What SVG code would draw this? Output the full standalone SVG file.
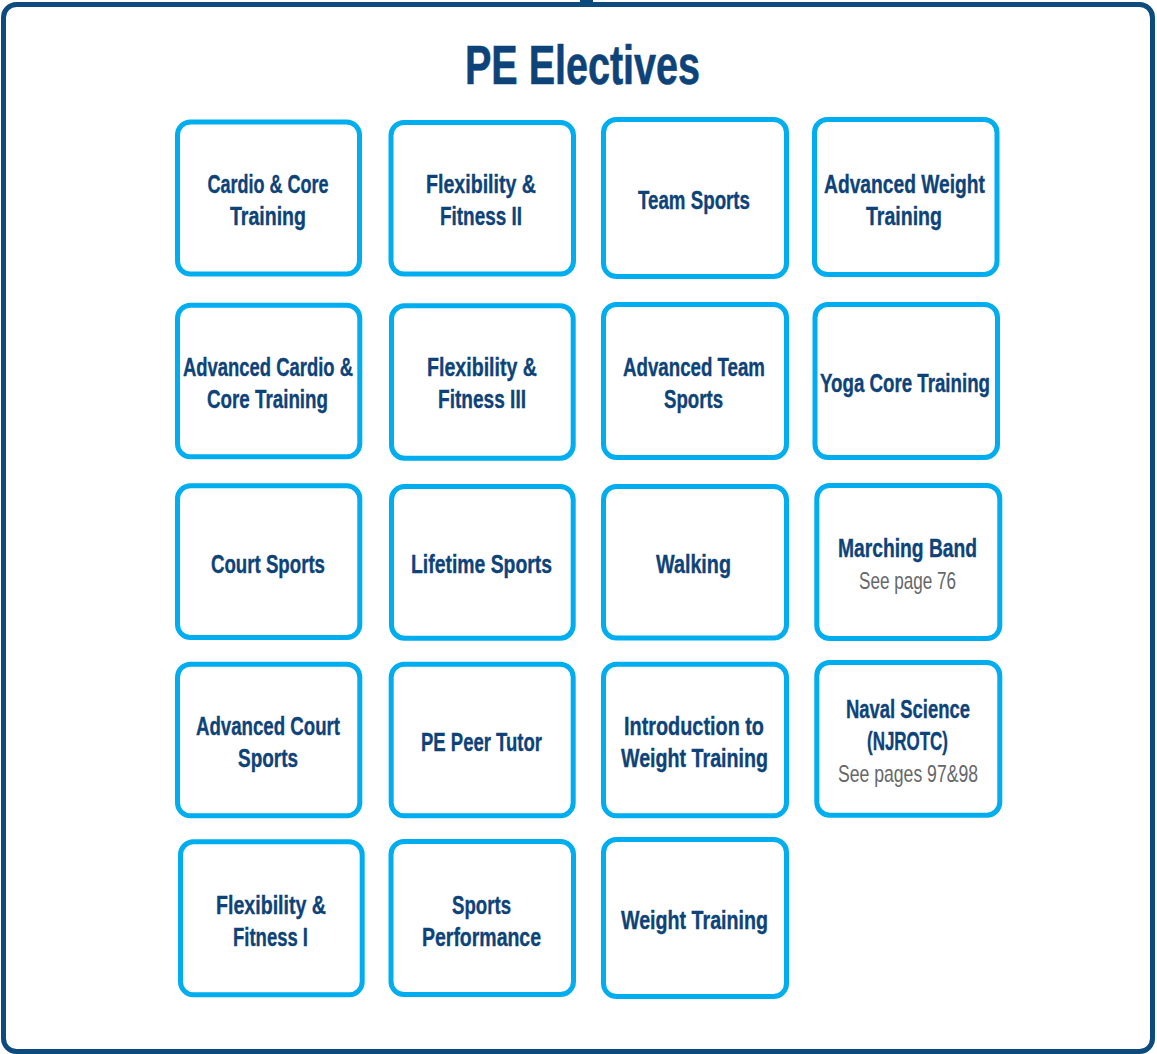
<svg xmlns="http://www.w3.org/2000/svg" width="1157" height="1054" viewBox="0 0 1157 1054">
<style>
.frame{fill:#fff;stroke:#0d4a7e;stroke-width:5}
.box{fill:#fff;stroke:#00aeef;stroke-width:5}
.t{font-family:"Liberation Sans",Arial,sans-serif;font-weight:bold;font-size:25.5px;fill:#0d4379;stroke:#0d4379;stroke-width:0.35;text-anchor:middle}
.s{font-family:"Liberation Sans",Arial,sans-serif;font-size:24px;fill:#666769;text-anchor:middle}
.title{font-family:"Liberation Sans",Arial,sans-serif;font-weight:bold;font-size:55px;fill:#0d4379;stroke:#0d4379;stroke-width:0.6;text-anchor:middle}
</style>
<rect width="1157" height="1054" fill="#fff"/>
<g id="frame">
<rect class="frame" x="3.5" y="4.5" width="1149" height="1047" rx="13"/>
</g>
<g id="connectors">
<rect x="580" y="0" width="13" height="6" fill="#0d4a7e"/>
</g>
<text class="title" x="582.5" y="84" textLength="235" lengthAdjust="spacingAndGlyphs">PE Electives</text>

<g id="n-cardio"><rect class="box" x="177.5" y="122" width="182" height="152" rx="13"/>
<text class="t" x="268" y="192.5" textLength="121" lengthAdjust="spacingAndGlyphs">Cardio &amp; Core</text>
<text class="t" x="268" y="224.5" textLength="76" lengthAdjust="spacingAndGlyphs">Training</text></g>

<g id="n-flex2"><rect class="box" x="391" y="122.5" width="182.5" height="151.5" rx="13"/>
<text class="t" x="481" y="192.5" textLength="110" lengthAdjust="spacingAndGlyphs">Flexibility &amp;</text>
<text class="t" x="481" y="224.5" textLength="82" lengthAdjust="spacingAndGlyphs">Fitness II</text></g>

<g id="n-team"><rect class="box" x="603.5" y="119.5" width="183" height="157" rx="13"/>
<text class="t" x="694" y="208.5" textLength="112" lengthAdjust="spacingAndGlyphs">Team Sports</text></g>

<g id="n-advweight"><rect class="box" x="814.5" y="119.5" width="182.5" height="155" rx="13"/>
<text class="t" x="904.5" y="192.5" textLength="161" lengthAdjust="spacingAndGlyphs">Advanced Weight</text>
<text class="t" x="904" y="224.5" textLength="76" lengthAdjust="spacingAndGlyphs">Training</text></g>

<g id="n-advcardio"><rect class="box" x="177.5" y="305.2" width="182.3" height="151.6" rx="13"/>
<text class="t" x="268" y="375.5" textLength="170" lengthAdjust="spacingAndGlyphs">Advanced Cardio &amp;</text>
<text class="t" x="267.5" y="407.5" textLength="121" lengthAdjust="spacingAndGlyphs">Core Training</text></g>

<g id="n-flex3"><rect class="box" x="391.5" y="305.8" width="181.7" height="152.4" rx="13"/>
<text class="t" x="482" y="375.5" textLength="110" lengthAdjust="spacingAndGlyphs">Flexibility &amp;</text>
<text class="t" x="482" y="407.5" textLength="88" lengthAdjust="spacingAndGlyphs">Fitness III</text></g>

<g id="n-advteam"><rect class="box" x="603.5" y="304.5" width="183" height="153" rx="13"/>
<text class="t" x="694" y="375.5" textLength="142" lengthAdjust="spacingAndGlyphs">Advanced Team</text>
<text class="t" x="693.5" y="407.5" textLength="59" lengthAdjust="spacingAndGlyphs">Sports</text></g>

<g id="n-yoga"><rect class="box" x="815" y="304.5" width="182.5" height="153" rx="13"/>
<text class="t" x="905" y="391.5" textLength="170" lengthAdjust="spacingAndGlyphs">Yoga Core Training</text></g>

<g id="n-court"><rect class="box" x="177.5" y="485.8" width="182.3" height="151.7" rx="13"/>
<text class="t" x="268" y="572.5" textLength="114" lengthAdjust="spacingAndGlyphs">Court Sports</text></g>

<g id="n-lifetime"><rect class="box" x="391.5" y="486.5" width="181.7" height="151.7" rx="13"/>
<text class="t" x="481.5" y="572.5" textLength="141" lengthAdjust="spacingAndGlyphs">Lifetime Sports</text></g>

<g id="n-walking"><rect class="box" x="603.5" y="486.5" width="183" height="151.5" rx="13"/>
<text class="t" x="693.5" y="572.5" textLength="75" lengthAdjust="spacingAndGlyphs">Walking</text></g>

<g id="n-marching"><rect class="box" x="816.8" y="485.5" width="183" height="153" rx="13"/>
<text class="t" x="907.5" y="556.5" textLength="139" lengthAdjust="spacingAndGlyphs">Marching Band</text>
<text class="s" x="907.5" y="588.5" textLength="97" lengthAdjust="spacingAndGlyphs">See page 76</text></g>

<g id="n-advcourt"><rect class="box" x="177.5" y="664.2" width="182.3" height="151.6" rx="13"/>
<text class="t" x="268" y="734.5" textLength="144" lengthAdjust="spacingAndGlyphs">Advanced Court</text>
<text class="t" x="268" y="766.5" textLength="60" lengthAdjust="spacingAndGlyphs">Sports</text></g>

<g id="n-peer"><rect class="box" x="391.2" y="664.2" width="182" height="151.6" rx="13"/>
<text class="t" x="481.5" y="750.5" textLength="121" lengthAdjust="spacingAndGlyphs">PE Peer Tutor</text></g>

<g id="n-introweight"><rect class="box" x="603.5" y="664.2" width="183" height="151.6" rx="13"/>
<text class="t" x="694" y="734.5" textLength="140" lengthAdjust="spacingAndGlyphs">Introduction to</text>
<text class="t" x="694.5" y="766.5" textLength="147" lengthAdjust="spacingAndGlyphs">Weight Training</text></g>

<g id="n-naval"><rect class="box" x="816.8" y="662.5" width="183" height="152.7" rx="13"/>
<text class="t" x="908" y="717.5" textLength="124" lengthAdjust="spacingAndGlyphs">Naval Science</text>
<text class="t" x="907.5" y="749.5" textLength="81" lengthAdjust="spacingAndGlyphs">(NJROTC)</text>
<text class="s" x="908" y="781.5" textLength="140" lengthAdjust="spacingAndGlyphs">See pages 97&amp;98</text></g>

<g id="n-flex1"><rect class="box" x="180.5" y="841.8" width="181.7" height="153" rx="13"/>
<text class="t" x="271" y="913.5" textLength="110" lengthAdjust="spacingAndGlyphs">Flexibility &amp;</text>
<text class="t" x="270.5" y="945.5" textLength="75" lengthAdjust="spacingAndGlyphs">Fitness I</text></g>

<g id="n-sportsperf"><rect class="box" x="391" y="841.5" width="182.5" height="153" rx="13"/>
<text class="t" x="481.5" y="913.5" textLength="59" lengthAdjust="spacingAndGlyphs">Sports</text>
<text class="t" x="481.5" y="945.5" textLength="119" lengthAdjust="spacingAndGlyphs">Performance</text></g>

<g id="n-weight"><rect class="box" x="603.5" y="839.5" width="183" height="157" rx="13"/>
<text class="t" x="694.5" y="928.5" textLength="147" lengthAdjust="spacingAndGlyphs">Weight Training</text></g>
</svg>
